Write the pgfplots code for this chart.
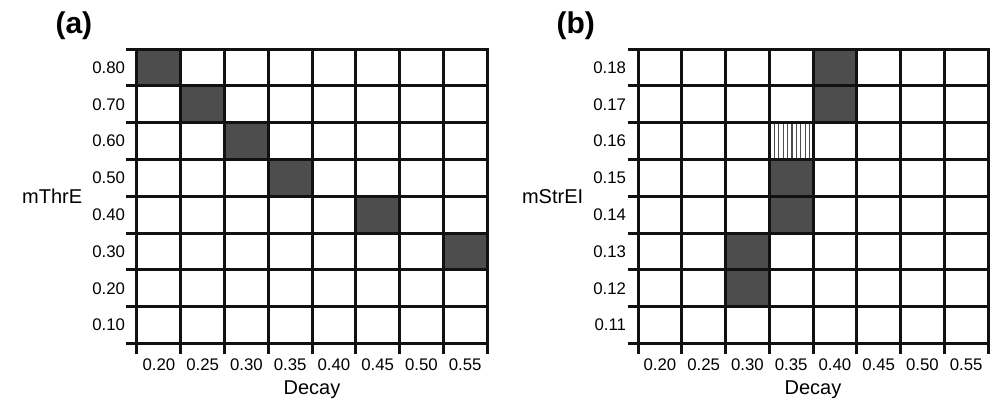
\documentclass[border=0pt]{standalone}
\usepackage{pgfplots}
\pgfplotsset{compat=1.18}
\usetikzlibrary{patterns.meta}
\usepackage{fontspec}
\setmainfont{Liberation Sans}
\definecolor{cellgray}{HTML}{4D4D4D}
\definecolor{gridblack}{HTML}{111111}
\newcommand{\tlfont}{\fontsize{16.8}{19}\selectfont}
\pgfplotsset{
  cellgrid/.style={
    scale only axis, width=350pt, height=294.5pt,
    anchor=south west,
    xmin=0, xmax=8, ymin=0, ymax=8,
    axis on top,
    xtick={0.5,1.5,...,7.5}, ytick={0.5,1.5,...,7.5},
    minor xtick={0,1,...,8}, minor ytick={0,1,...,8},
    major tick length=0pt, minor tick length=10.5pt,
    tick align=outside, tick pos=left,
    xminorgrids=true, yminorgrids=true,
    minor grid style={line width=3pt, gridblack},
    minor tick style={line width=3pt, gridblack},
    axis line style={line width=3pt, gridblack},
    xticklabel style={font=\tlfont, yshift=-12pt},
    yticklabel style={font=\tlfont, xshift=-8.5pt},
    label style={font=\fontsize{20}{24}\selectfont},
    xlabel={Decay},
    xlabel style={at={(axis description cs:0.5,0)}, anchor=north, yshift=-33.5pt},
    ylabel style={rotate=-90, at={(axis description cs:0,0.5)}, anchor=east, xshift=-51.3pt},
    xticklabels={\tlfont 0.20,\tlfont 0.25,\tlfont 0.30,\tlfont 0.35,\tlfont 0.40,\tlfont 0.45,\tlfont 0.50,\tlfont 0.55},
  }
}
\begin{document}
\begin{tikzpicture}
\path[use as bounding box] (0,0) rectangle (991pt,400pt);
% Panel (a)
\begin{axis}[cellgrid, at={(137pt,56.5pt)},
  ylabel={mThrE},
  yticklabels={\tlfont 0.10,\tlfont 0.20,\tlfont 0.30,\tlfont 0.40,\tlfont 0.50,\tlfont 0.60,\tlfont 0.70,\tlfont 0.80}]
\addplot[fill=cellgray, draw=none] coordinates {(0,7) (1,7) (1,8) (0,8)} -- cycle;
\addplot[fill=cellgray, draw=none] coordinates {(1,6) (2,6) (2,7) (1,7)} -- cycle;
\addplot[fill=cellgray, draw=none] coordinates {(2,5) (3,5) (3,6) (2,6)} -- cycle;
\addplot[fill=cellgray, draw=none] coordinates {(3,4) (4,4) (4,5) (3,5)} -- cycle;
\addplot[fill=cellgray, draw=none] coordinates {(5,3) (6,3) (6,4) (5,4)} -- cycle;
\addplot[fill=cellgray, draw=none] coordinates {(7,2) (8,2) (8,3) (7,3)} -- cycle;
\end{axis}
% Panel (b)
\begin{axis}[cellgrid, at={(638pt,56.5pt)},
  ylabel={mStrEI},
  yticklabels={\tlfont 0.11,\tlfont 0.12,\tlfont 0.13,\tlfont 0.14,\tlfont 0.15,\tlfont 0.16,\tlfont 0.17,\tlfont 0.18}]
\addplot[fill=cellgray, draw=none] coordinates {(4,7) (5,7) (5,8) (4,8)} -- cycle;
\addplot[fill=cellgray, draw=none] coordinates {(4,6) (5,6) (5,7) (4,7)} -- cycle;
\addplot[pattern={Lines[angle=90,distance=4.4pt,line width=1.2pt]}, pattern color=black!70, draw=none] coordinates {(3,5) (4,5) (4,6) (3,6)} -- cycle;
\addplot[fill=cellgray, draw=none] coordinates {(3,4) (4,4) (4,5) (3,5)} -- cycle;
\addplot[fill=cellgray, draw=none] coordinates {(3,3) (4,3) (4,4) (3,4)} -- cycle;
\addplot[fill=cellgray, draw=none] coordinates {(2,2) (3,2) (3,3) (2,3)} -- cycle;
\addplot[fill=cellgray, draw=none] coordinates {(2,1) (3,1) (3,2) (2,2)} -- cycle;
\end{axis}
\node[anchor=west, font=\fontsize{30}{36}\selectfont\bfseries] at (52pt,374pt) {(a)};
\node[anchor=west, font=\fontsize{30}{36}\selectfont\bfseries] at (553pt,374pt) {(b)};
\end{tikzpicture}
\end{document}
